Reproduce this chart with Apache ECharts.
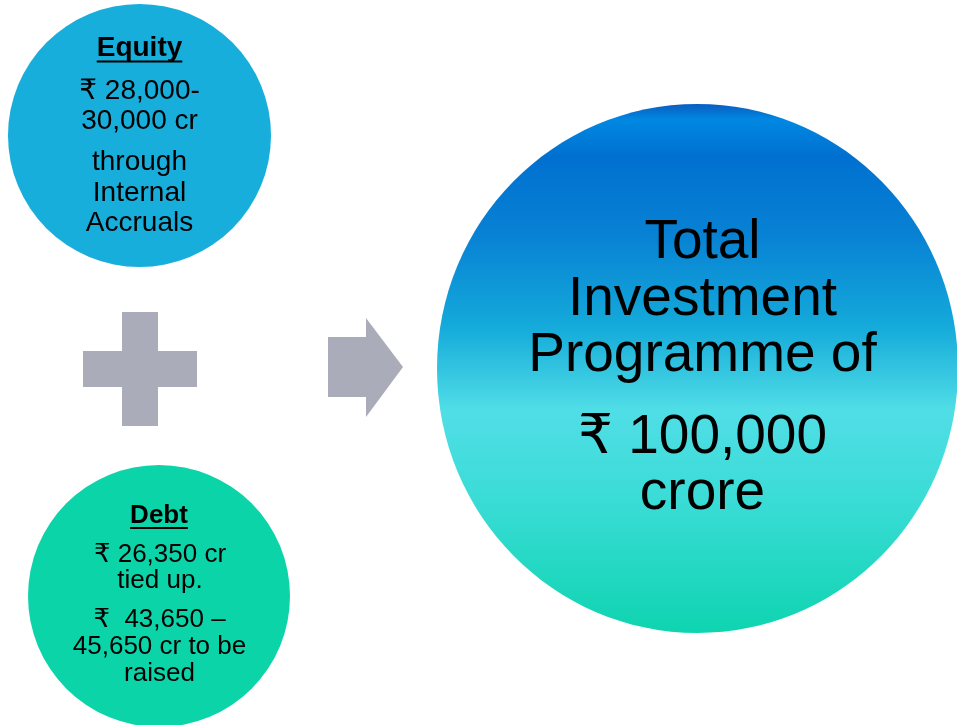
<!DOCTYPE html>
<html>
<head>
<meta charset="utf-8">
<script src="https://cdn.jsdelivr.net/npm/echarts@6/dist/echarts.min.js"></script>
<style>
  html, body { margin: 0; padding: 0; background: #ffffff; }
  #chart { width: 957px; height: 725px; }
</style>
</head>
<body>
<div id="chart"></div>
<script>
// ---- Content (text of the diagram) ----
const equityTitle = 'Equity';
const equityAmount = ['₹ 28,000-', '30,000 cr'];
const equitySource = ['through', 'Internal', 'Accruals'];
const debtTitle = 'Debt';
const debtTiedUp = ['₹ 26,350 cr', 'tied up.'];
const debtToRaise = ['₹  43,650 –', '45,650 cr to be', 'raised'];
const totalTitle = ['Total', 'Investment', 'Programme of'];
const totalAmount = ['₹ 100,000', 'crore'];

// ---- Layout / style ----
const FONT = '"Liberation Sans", Arial, "DejaVu Sans", sans-serif';
const MID = 0.31; // distance from canvas "middle" to alphabetic baseline (em)
const measureCtx = document.createElement('canvas').getContext('2d');
function textWidth(str, fs, weight) {
  measureCtx.font = (weight || 'normal') + ' ' + fs + 'px ' + FONT;
  return measureCtx.measureText(str).width;
}
function lines(arr, cx, firstBaseline, lh, fs, weight) {
  return arr.map((t, i) => ({
    type: 'text',
    z: 10,
    style: {
      text: t,
      x: cx,
      y: firstBaseline + i * lh - MID * fs,
      fill: '#000000',
      fontSize: fs,
      fontFamily: FONT,
      fontWeight: weight || 'normal',
      align: 'center',
      verticalAlign: 'middle'
    }
  }));
}
function underline(str, cx, y, fs, weight) {
  const w = textWidth(str, fs, weight);
  return {
    type: 'rect', z: 10,
    shape: { x: cx - w / 2, y: y, width: w, height: 2 },
    style: { fill: '#000000' }
  };
}

const chart = echarts.init(document.getElementById('chart'), null, { renderer: 'canvas' });

const elements = [];
// Equity circle
elements.push({ type: 'circle', shape: { cx: 139.5, cy: 135.5, r: 131.5 }, style: { fill: '#17AEDB' } });
elements.push(...lines([equityTitle], 139.5, 57, 0, 28, 'bold'));
elements.push(underline(equityTitle, 139.5, 60.5, 28, 'bold'));
elements.push(...lines(equityAmount, 139.5, 100, 29.5, 28));
elements.push(...lines(equitySource, 139.5, 171, 30.5, 28));

// Debt circle
elements.push({ type: 'circle', shape: { cx: 159, cy: 596, r: 131 }, style: { fill: '#0CD4A9' } });
elements.push(...lines([debtTitle], 159, 524, 0, 26, 'bold'));
elements.push(underline(debtTitle, 159, 527, 26, 'bold'));
elements.push(...lines(debtTiedUp, 160, 563, 26, 26));
elements.push(...lines(debtToRaise, 159.5, 628, 27, 26));

// Plus sign
elements.push({ type: 'rect', shape: { x: 122, y: 312, width: 36, height: 114 }, style: { fill: '#AAACBA' } });
elements.push({ type: 'rect', shape: { x: 83, y: 351, width: 114, height: 36 }, style: { fill: '#AAACBA' } });

// Arrow
elements.push({
  type: 'polygon',
  shape: { points: [[328, 337], [366, 337], [366, 318], [403, 367], [366, 417], [366, 397], [328, 397]] },
  style: { fill: '#AAACBA' }
});

// Big total circle
elements.push({
  type: 'ellipse',
  shape: { cx: 697.5, cy: 368.5, rx: 260.5, ry: 264.5 },
  style: {
    fill: {
      type: 'linear', x: 0, y: 0, x2: 0, y2: 1,
      colorStops: [
        { offset: 0.0, color: '#0A5EC0' },
        { offset: 0.03, color: '#0088E2' },
        { offset: 0.1, color: '#0070D0' },
        { offset: 0.25, color: '#0882D4' },
        { offset: 0.42, color: '#14AADA' },
        { offset: 0.58, color: '#50DEE6' },
        { offset: 0.75, color: '#3ADCD6' },
        { offset: 1.0, color: '#0ED4B0' }
      ]
    }
  }
});
elements.push(...lines(totalTitle, 702.5, 260, 56.5, 55));
elements.push(...lines(totalAmount, 702.5, 455, 56, 55));

chart.setOption({
  backgroundColor: '#ffffff',
  animation: false,
  graphic: { elements: elements }
});
</script>
</body>
</html>
